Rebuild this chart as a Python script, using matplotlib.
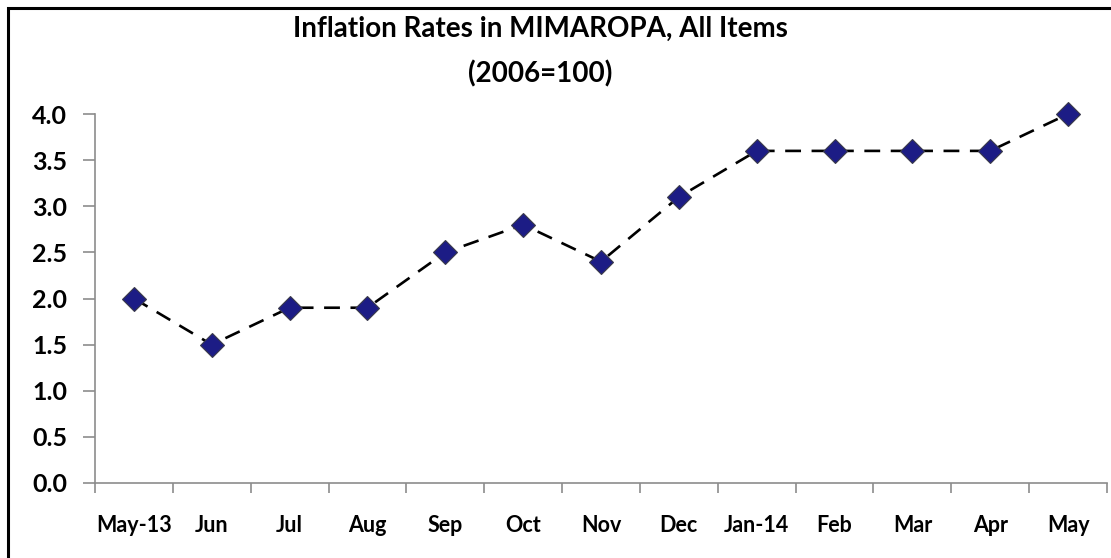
import matplotlib.pyplot as plt
from matplotlib.patches import Rectangle

# Inflation rates, MIMAROPA, all items (2006=100)
months = ['May-13', 'Jun', 'Jul', 'Aug', 'Sep', 'Oct', 'Nov', 'Dec',
          'Jan-14', 'Feb', 'Mar', 'Apr', 'May']
rates = [2.0, 1.5, 1.9, 1.9, 2.5, 2.8, 2.4, 3.1, 3.6, 3.6, 3.6, 3.6, 4.0]
yticks = [0.0, 0.5, 1.0, 1.5, 2.0, 2.5, 3.0, 3.5, 4.0]

plt.rcParams['font.family'] = ['Lato', 'DejaVu Sans']

W, H = 1111, 558
fig = plt.figure(figsize=(W / 100, H / 100), dpi=100)
ax = fig.add_axes([95 / W, 1 - 483 / H, (1107 - 95) / W, (483 - 114) / H])

x = list(range(len(months)))
ax.plot(x, rates, color='black', linewidth=1.9, linestyle=(0, (6, 4)),
        marker='D', markersize=12, markerfacecolor='#1c1c85',
        markeredgecolor='#3a3a4a', markeredgewidth=0.8, zorder=3,
        clip_on=False)

ax.set_xlim(-0.5, len(months) - 0.5)
ax.set_ylim(0, 4.0)
ax.set_yticks(yticks)
ax.set_yticklabels([f'{v:.1f}' for v in yticks], fontsize=18, fontweight='bold')

# category labels centred, tick marks on the boundaries
ax.set_xticks(x)
ax.set_xticklabels(months, fontsize=15.5, fontweight='bold')
ax.tick_params(axis='x', length=0, pad=23)
ax.set_xticks([i - 0.5 for i in range(len(months) + 1)], minor=True)
ax.tick_params(axis='x', which='minor', length=7, color='#8c8c8c', width=1.2)
ax.tick_params(axis='y', length=9, color='#8c8c8c', width=1.2, pad=11)

for side in ['top', 'right']:
    ax.spines[side].set_visible(False)
for side in ['left', 'bottom']:
    ax.spines[side].set_color('#8c8c8c')
    ax.spines[side].set_linewidth(1.2)

fig.text(540 / W, 1 - 37 / H, 'Inflation Rates in MIMAROPA, All Items',
         ha='center', va='baseline', fontsize=20, fontweight='bold')
fig.text(540 / W, 1 - 82 / H, '(2006=100)',
         ha='center', va='baseline', fontsize=20, fontweight='bold')

# chart border (right and bottom edges fall outside the image)
fig.patches.append(Rectangle((8 / W, -0.05), 1.2, 1 - 8 / H + 0.05,
                             transform=fig.transFigure, fill=False,
                             edgecolor='black', linewidth=2.2))

fig.savefig('out.png', dpi=100)
